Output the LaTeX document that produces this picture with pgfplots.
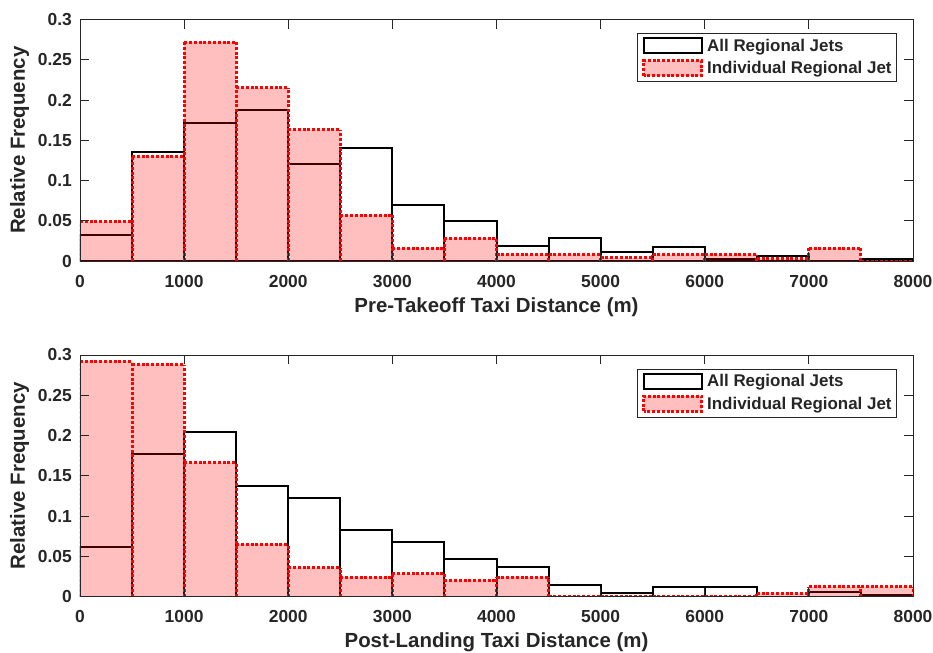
\documentclass[border=0pt]{standalone}
\usepackage{fontspec}
\setmainfont{Liberation Sans}
\usepackage{pgfplots}
\usepackage{pgfplotstable}
\pgfplotsset{compat=1.18}
\definecolor{txt}{rgb}{0.15,0.15,0.15}

% bin left edges and relative frequencies (last row closes the last bin)
\pgfplotstableread{
x     allA   indA   allB   indB
0     0.032  0.049  0.062  0.292
500   0.135  0.130  0.177  0.288
1000  0.172  0.272  0.204  0.166
1500  0.188  0.215  0.137  0.065
2000  0.120  0.163  0.122  0.036
2500  0.140  0.057  0.082  0.024
3000  0.070  0.016  0.068  0.028
3500  0.050  0.028  0.047  0.020
4000  0.019  0.008  0.037  0.024
4500  0.029  0.008  0.014  0.000
5000  0.011  0.004  0.004  0.000
5500  0.017  0.008  0.012  0.000
6000  0.002  0.008  0.012  0.000
6500  0.006  0.003  0.000  0.004
7000  0.000  0.016  0.005  0.012
7500  0.002  0.000  0.002  0.012
8000  0      0      0      0
}\histdata

% bin edges of the individual-jet histograms: height of the taller neighbouring bar
\pgfplotstableread{
x     edgeA  edgeB
0     0.049  0.292
500   0.130  0.292
1000  0.272  0.288
1500  0.272  0.166
2000  0.215  0.065
2500  0.163  0.036
3000  0.057  0.028
3500  0.028  0.028
4000  0.028  0.024
4500  0.008  0.024
5000  0.008  0.000
5500  0.008  0.000
6000  0.008  0.000
6500  0.008  0.004
7000  0.016  0.012
7500  0.016  0.012
8000  0.000  0.012
}\edgedata

% bar tops of the individual-jet histograms
\pgfplotstableread{
x     topA   topB
0     0.049  0.292
500   0.049  0.292
nan   nan    nan
500   0.130  0.288
1000  0.130  0.288
nan   nan    nan
1000  0.272  0.166
1500  0.272  0.166
nan   nan    nan
1500  0.215  0.065
2000  0.215  0.065
nan   nan    nan
2000  0.163  0.036
2500  0.163  0.036
nan   nan    nan
2500  0.057  0.024
3000  0.057  0.024
nan   nan    nan
3000  0.016  0.028
3500  0.016  0.028
nan   nan    nan
3500  0.028  0.020
4000  0.028  0.020
nan   nan    nan
4000  0.008  0.024
4500  0.008  0.024
nan   nan    nan
4500  0.008  0.000
5000  0.008  0.000
nan   nan    nan
5000  0.004  0.000
5500  0.004  0.000
nan   nan    nan
5500  0.008  0.000
6000  0.008  0.000
nan   nan    nan
6000  0.008  0.000
6500  0.008  0.000
nan   nan    nan
6500  0.003  0.004
7000  0.003  0.004
nan   nan    nan
7000  0.016  0.012
7500  0.016  0.012
nan   nan    nan
7500  0.000  0.012
8000  0.000  0.012
}\topdata

\pgfplotsset{
  myaxis/.style={
    scale only axis, width=833bp, height=241.5bp,
    xmin=0, xmax=8000, ymin=0, ymax=0.3,
    xtick={0,1000,2000,3000,4000,5000,6000,7000,8000},
    xticklabels={0,1000,2000,3000,4000,5000,6000,7000,8000},
    ytick={0,0.05,0.1,0.15,0.2,0.25,0.3},
    yticklabels={0,0.05,0.1,0.15,0.2,0.25,0.3},
    tick align=inside, major tick length=9bp,
    axis line style={txt, line width=0.8bp},
    every tick/.style={txt, line width=0.8bp},
    tick label style={font=\fontsize{17.5}{20}\selectfont\bfseries, text=txt},
    xticklabel style={anchor=north, inner sep=0pt, yshift=-14bp},
    yticklabel style={anchor=east, inner sep=0pt, xshift=-8bp},
    label style={font=\fontsize{20.5}{24}\selectfont\bfseries, text=txt},
    xlabel style={at={(axis description cs:0.5,-0.2112)}, anchor=base, inner sep=0pt},
    ylabel style={at={(axis description cs:-0.0726,0.5)}, anchor=center, inner sep=0pt},
    ylabel={Relative Frequency},
    axis on top,
    unbounded coords=jump,
    legend cell align=left,
    legend image code/.code={\draw[##1] (0bp,-7.5bp) rectangle (58bp,7.5bp);},
    legend style={at={(rel axis cs:0.9808,0.9441)}, anchor=north east,
      draw=txt, line width=0.8bp, fill=white,
      font=\fontsize{17}{20}\selectfont\bfseries, text=txt,
      inner xsep=5bp, inner ysep=4bp, row sep=5bp,
      nodes={inner sep=0pt},
      /tikz/every odd column/.append style={column sep=4bp}},
  },
  allstyle/.style={ybar interval, draw=black, line width=2bp, fill=none},
  indfill/.style={ybar interval, draw=none, fill=red, fill opacity=0.25, forget plot},
  indline/.style={draw=red, line width=3bp, line cap=butt,
    dash pattern=on 3bp off 1.8bp, mark=none, forget plot},
}

\begin{document}
\begin{tikzpicture}
\useasboundingbox (-80bp,19.5bp) rectangle (853bp,-633.5bp);
\begin{axis}[myaxis, at={(0,0)}, anchor=north west,
  xlabel={Pre-Takeoff Taxi Distance (m)}]
\addplot[allstyle] table[x=x, y=allA] {\histdata};
\addlegendentry{All Regional Jets}
\addplot[indfill] table[x=x, y=indA] {\histdata};
\addplot[indline, ycomb] table[x=x, y=edgeA] {\edgedata};
\addplot[indline] table[x=x, y=topA] {\topdata};
\addlegendimage{draw=red, line width=3bp, line cap=butt, dash pattern=on 3bp off 1.8bp, fill=red, fill opacity=0.25}
\addlegendentry{Individual Regional Jet}
\node[font=\fontsize{21}{24}\selectfont\bfseries, text=txt, anchor=center]
  at (rel axis cs:-0.0504,-0.1035) {(a)};
\end{axis}
\begin{axis}[myaxis, at={(0,-335.5bp)}, anchor=north west,
  xlabel={Post-Landing Taxi Distance (m)}]
\addplot[allstyle] table[x=x, y=allB] {\histdata};
\addlegendentry{All Regional Jets}
\addplot[indfill] table[x=x, y=indB] {\histdata};
\addplot[indline, ycomb] table[x=x, y=edgeB] {\edgedata};
\addplot[indline] table[x=x, y=topB] {\topdata};
\addlegendimage{draw=red, line width=3bp, line cap=butt, dash pattern=on 3bp off 1.8bp, fill=red, fill opacity=0.25}
\addlegendentry{Individual Regional Jet}
\node[font=\fontsize{21}{24}\selectfont\bfseries, text=txt, anchor=center]
  at (rel axis cs:-0.0504,-0.1) {(b)};
\end{axis}
\end{tikzpicture}
\end{document}
